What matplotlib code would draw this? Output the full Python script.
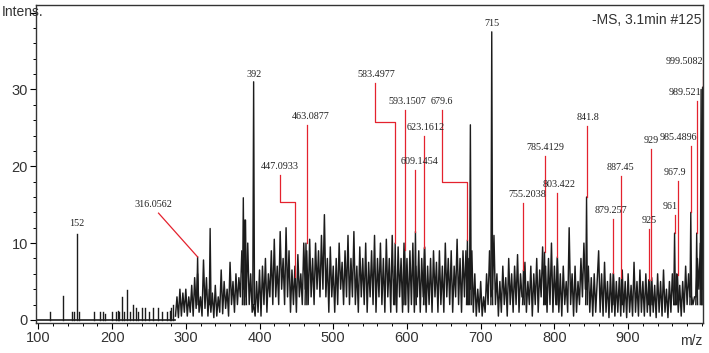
import numpy as np
import matplotlib
matplotlib.use("Agg")
import matplotlib.pyplot as plt
from matplotlib.ticker import MultipleLocator

# sparse sticks below ~285 m/z
stick_mz = [116, 133, 145, 148, 152, 155, 176, 183, 188, 190, 200, 205, 208, 210, 213,
            216, 220, 224, 228, 232, 235, 240, 245, 250, 255, 262, 268, 275, 278, 280, 283]
stick_int = [1.0, 3.1, 1.0, 1.0, 11.2, 1.0, 1.0, 1.0, 1.0, 0.8, 1.0, 1.0, 1.2, 1.0, 3.0,
             1.0, 3.9, 1.0, 2.0, 1.5, 1.0, 1.5, 1.5, 1.0, 1.5, 1.5, 1.0, 1.0, 1.2, 1.5, 2.0]

# dense trace, one value every 2 m/z from 286 to 1000
trace_start = 286
trace = [
    0.5, 3, 0.3, 4, 0.5, 3.5, 1, 4, 0.5, 3, 1, 4.5, 0.5, 5.5, 1.5, 6, 1, 3, 0.5, 7.8,
    1.5, 5.5, 0.5, 4, 1, 3.5, 0.3, 4.5, 0.5, 3, 1, 6.5, 0.8, 5, 1.5, 4, 0.5, 7.5, 2, 5,
    1, 6, 2, 5.5, 3, 9, 4, 13, 3, 10, 2, 6, 1, 2, 0.5, 5, 1, 6.5, 0.5, 7,
    2, 8, 1, 6, 3, 9, 2, 10.5, 3, 7, 2, 11.5, 4, 8, 2, 12, 3, 9, 1, 6.5,
    2, 7, 1, 8.5, 3, 6, 2, 10, 4, 9, 2, 10.5, 3, 8, 2, 10, 4, 9, 3, 11,
    4, 13.7, 3, 8, 1, 9.5, 3, 7, 1, 8, 2, 10, 4, 7.5, 2, 9, 3, 11, 2, 8,
    3, 11.5, 2, 7, 1, 9.5, 3, 8, 2, 10, 1, 7.5, 3, 9, 2, 11, 1, 8, 3, 10,
    2, 8, 1, 10.5, 3, 8, 1, 11, 2, 7, 1, 9.5, 3, 8, 1, 10, 2, 8, 1, 9,
    2, 10, 1, 7, 3, 9, 1, 8, 3, 9.5, 1, 7, 2, 8, 1, 9, 3, 7.5, 1, 9,
    2, 7, 1, 10, 3, 8, 2, 9, 1, 7, 3, 10.5, 2, 8, 1, 9, 3, 9, 2, 8,
    4, 9, 1, 6, 0.5, 4, 1, 5, 0.5, 3, 1, 6, 2, 9, 3, 4, 11, 2, 6, 0.5,
    5, 1, 7, 2, 5.5, 0.5, 8, 2, 6, 1, 7, 2, 8.5, 1, 6, 3, 3, 7.5, 1, 5,
    2, 7, 0.5, 6, 2, 8, 1, 6.5, 3, 9.5, 2, 7, 1, 8, 2, 10, 1, 7, 2, 8,
    1, 6, 0.5, 7, 2, 5, 1, 12, 2, 6, 0.5, 7, 1, 5, 2, 8, 3, 10, 4, 4,
    7, 1, 5.5, 0.5, 6, 1, 5, 9, 1, 6, 0.5, 7.5, 1, 5, 0.3, 6, 1, 6, 0.5, 5,
    1, 5.5, 0.5, 6.5, 1, 5, 0.3, 6, 1, 4.5, 0.5, 7.5, 1, 5, 0.5, 6.5, 1, 5, 0.5, 6,
    1, 5.2, 0.5, 5.5, 1, 4.5, 0.3, 6, 1, 5, 0.5, 6.5, 1, 4, 0.3, 5, 1, 6, 2, 2,
    6, 1, 4.5, 0.5, 5, 1, 7, 2, 6, 3, 3, 2, 3, 3, 8, 4, 10, 4,
]

# main peaks drawn on top of the trace
peak_mz = [316, 333, 378, 381, 392, 463, 584, 597, 611.5, 623.7, 682, 686, 715,
           758, 786.6, 804, 843.6, 880, 891, 928.5, 931.5, 963, 967, 985, 993, 999, 1001]
peak_int = [8.2, 11.9, 15.9, 13, 31, 10, 10, 9.1, 11.5, 9.4, 10.4, 25.4, 37.5,
            6.5, 8.8, 8.2, 16, 6.1, 5.5, 5.2, 5.2, 11.3, 5.9, 14, 11.3, 30, 30.3]

# annotated peaks (red leader lines)
ann_text = ["316.0562", "447.0933", "463.0877", "583.4977", "593.1507", "609.1454",
            "623.1612", "679.6", "755.2038", "785.4129", "803.422", "841.8", "879.257",
            "887.45", "925", "929", "961", "967.9", "985.4896", "989.521", "999.5082"]
ann_text_x = [256, 428, 469, 559, 601, 617, 625, 648, 763, 788, 806, 846, 876,
              890, 928, 931, 957.5, 964, 968, 977, 977]
ann_text_y = [15, 20, 26.5, 32, 28.4, 20.6, 25, 28.4, 16.3, 22.4, 17.6, 26.3, 14.3,
              19.8, 13, 23.4, 14.7, 19.2, 23.7, 29.6, 33.6]
ann_x0 = [263, 428, 465, 557, 597, 611.5, 623.7, 648, 758, 786.6, 804, 843.6, 880,
          891, 928.5, 931.5, 963, 967, 985, 993, 1001]
ann_elbow = [None, 15.4, None, 25.8, None, None, None, 18, None, None, None, None, None,
             None, None, None, None, None, None, None, None]
ann_peak_x = [316, 448.5, 465, 584, 597, 611.5, 623.7, 682, 758, 786.6, 804, 843.6, 880,
              891, 928.5, 931.5, 963, 967, 985, 993, 1001]
ann_peak_y = [8.2, 5.6, 10, 10, 9.1, 11.5, 9.4, 10.4, 6.5, 8.8, 8.2, 16, 6.1,
              5.5, 5.2, 5.2, 11.3, 5.9, 14, 11.3, 30.3]

# black labels
blk_text = ["152", "392", "715"]
blk_x = [152, 392, 715]
blk_y = [12.5, 32.0, 38.6]

sans = ["Liberation Sans Narrow", "Liberation Sans", "DejaVu Sans"]
serif = ["Liberation Serif", "DejaVu Serif"]

fig = plt.figure(figsize=(7.09, 3.53), dpi=100)
ax = fig.add_axes([0.051, 0.085, 0.941, 0.901])

trace_col = "#1c1c1c"
red = "#e4222e"

# low mass sticks
for m, h in zip(stick_mz, stick_int):
    ax.plot([m, m], [0, h], color=trace_col, lw=1.0)
ax.plot([97, 286], [0, 0], color=trace_col, lw=1.2)

tr_mz = trace_start + 2 * np.arange(len(trace))
ax.plot(tr_mz, trace, color=trace_col, lw=1.05)

for m, h in zip(peak_mz, peak_int):
    ax.plot([m - 1.2, m, m + 1.2], [2, h, 2], color=trace_col, lw=1.0)

for i in range(len(ann_text)):
    top = ann_text_y[i] - 1.1
    xs = [ann_x0[i]]
    ys = [top]
    if ann_elbow[i] is not None:
        xs += [ann_x0[i], ann_peak_x[i]]
        ys += [ann_elbow[i], ann_elbow[i]]
    xs.append(ann_peak_x[i])
    ys.append(ann_peak_y[i])
    ax.plot(xs, ys, color=red, lw=0.9)
    ax.text(ann_text_x[i], ann_text_y[i], ann_text[i], ha="center", va="center",
            fontsize=7.3, family=serif, color="#222222")

for t, x, y in zip(blk_text, blk_x, blk_y):
    ax.text(x, y, t, ha="center", va="center", fontsize=7.3, family=serif, color="#222222")

ax.set_xlim(97, 1002)
ax.set_ylim(-0.4, 41)
ax.set_xticks([100, 200, 300, 400, 500, 600, 700, 800, 900])
ax.set_yticks([0, 10, 20, 30, 40])
ax.set_yticklabels(["0", "10", "20", "30", ""])
ax.xaxis.set_minor_locator(MultipleLocator(20))
ax.yaxis.set_minor_locator(MultipleLocator(2))
ax.tick_params(which="major", length=4, width=0.8, labelsize=10.5, pad=2)
ax.tick_params(which="minor", length=2.5, width=0.7)
for lab in ax.get_xticklabels() + ax.get_yticklabels():
    lab.set_family(sans)
    lab.set_color("#333333")
for s in ax.spines.values():
    s.set_linewidth(1.0)
    s.set_color("#333333")

fig.text(0.002, 0.966, "Intens.", fontsize=10, family=sans, color="#333333", ha="left", va="center")
ax.text(0.998, 0.975, "-MS, 3.1min #125", transform=ax.transAxes, fontsize=10,
        family=sans, color="#333333", ha="right", va="top")
fig.text(0.975, 0.035, "m/z", fontsize=10, family=sans, color="#333333", ha="center", va="center")

fig.savefig("out.png", dpi=100)
